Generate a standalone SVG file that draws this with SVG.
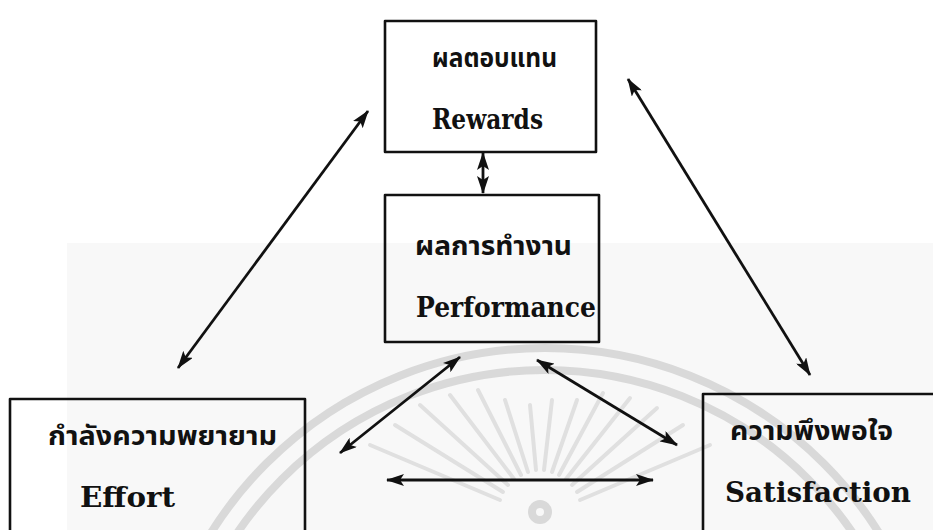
<svg xmlns="http://www.w3.org/2000/svg" width="933" height="530" viewBox="0 0 933 530">
  <style>
    .box { fill: none; stroke: #111; stroke-width: 2.6; stroke-linejoin: round; }
    .th { font-family: "Noto Sans Thai", "Noto Sans", "DejaVu Sans", sans-serif; font-size: 27px; font-weight: bold; fill: #111; }
    .en { font-family: "DejaVu Serif", "Liberation Serif", serif; font-size: 27px; font-weight: bold; fill: #111; }
    .conn { stroke: #111; stroke-width: 2.8; fill: none; marker-start: url(#ah); marker-end: url(#ah); }
    .wm { fill: none; stroke: #d9d9d9; stroke-width: 8; }
    .ray { stroke: #e0e0e0; stroke-width: 4; stroke-linecap: round; }
  </style>
  <defs>
    <marker id="ah" viewBox="0 0 18 12" refX="17" refY="6" markerWidth="18" markerHeight="12" markerUnits="userSpaceOnUse" orient="auto-start-reverse">
      <path d="M0,0 L18,6 L0,12 L4,6 Z" fill="#111"/>
    </marker>
  </defs>
  <rect x="0" y="0" width="933" height="530" fill="#ffffff"/>
  <g id="watermark">
    <rect x="67" y="243" width="866" height="287" fill="#f8f8f8"/>
    <circle cx="545" cy="742" r="394" class="wm"/>
    <circle cx="545" cy="742" r="372" class="wm"/>
    <g class="ray">
      <line x1="500" y1="500" x2="370" y2="445"/>
      <line x1="503" y1="492" x2="395" y2="425"/>
      <line x1="508" y1="485" x2="420" y2="405"/>
      <line x1="514" y1="479" x2="450" y2="395"/>
      <line x1="521" y1="475" x2="478" y2="390"/>
      <line x1="528" y1="472" x2="505" y2="400"/>
      <line x1="536" y1="470" x2="530" y2="405"/>
      <line x1="544" y1="470" x2="552" y2="400"/>
      <line x1="552" y1="472" x2="577" y2="400"/>
      <line x1="559" y1="475" x2="603" y2="393"/>
      <line x1="566" y1="479" x2="630" y2="398"/>
      <line x1="572" y1="485" x2="657" y2="408"/>
      <line x1="577" y1="492" x2="683" y2="425"/>
      <line x1="580" y1="500" x2="710" y2="445"/>
    </g>
    <circle cx="540" cy="512" r="8" class="wm" stroke-width="4"/>
  </g>
  <g id="connectors">
    <line class="conn" x1="483" y1="153" x2="483" y2="193"/>
    <line class="conn" x1="368" y1="111" x2="178" y2="368"/>
    <line class="conn" x1="628" y1="79" x2="810" y2="375"/>
    <line class="conn" x1="460" y1="357" x2="340" y2="453"/>
    <line class="conn" x1="537" y1="360" x2="677" y2="445"/>
    <line class="conn" x1="387" y1="480" x2="653" y2="480"/>
  </g>
  <g id="rewards">
    <rect class="box" x="385" y="21" width="211" height="131"/>
    <text class="th" x="432" y="67" textLength="125" lengthAdjust="spacingAndGlyphs">ผลตอบแทน</text>
    <text class="en" x="432" y="129" textLength="111" lengthAdjust="spacingAndGlyphs">Rewards</text>
  </g>
  <g id="performance">
    <rect class="box" x="385" y="195" width="214" height="147"/>
    <text class="th" x="415" y="255" textLength="157" lengthAdjust="spacingAndGlyphs">ผลการทำงาน</text>
    <text class="en" x="416" y="317" textLength="180" lengthAdjust="spacingAndGlyphs">Performance</text>
  </g>
  <g id="effort">
    <path class="box" d="M10,532 L10,399 L305,399 L305,532"/>
    <text class="th" x="48" y="445" textLength="229" lengthAdjust="spacingAndGlyphs">กำลังความพยายาม</text>
    <text class="en" x="80" y="507" textLength="95" lengthAdjust="spacingAndGlyphs">Effort</text>
  </g>
  <g id="satisfaction">
    <path class="box" d="M703,532 L703,394 L933,394"/>
    <text class="th" x="730" y="440" textLength="163" lengthAdjust="spacingAndGlyphs">ความพึงพอใจ</text>
    <text class="en" x="725" y="502" textLength="186" lengthAdjust="spacingAndGlyphs">Satisfaction</text>
  </g>
</svg>
